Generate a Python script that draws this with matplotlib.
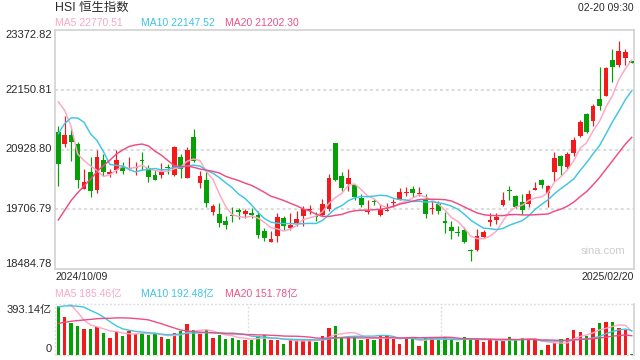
import numpy as np
import pandas as pd
import matplotlib
matplotlib.use('Agg')
import matplotlib.pyplot as plt
from matplotlib.transforms import blended_transform_factory

# ---------------- data ----------------
title = 'HSI 恒生指数'
timestamp = '02-20 09:30'
start_label = '2024/10/09'
end_label = '2025/02/20'
watermark = 'sina.com'
ytick_values = [23372.82, 22150.81, 20928.80, 19706.79, 18484.78]
ytick_labels = ['23372.82', '22150.81', '20928.80', '19706.79', '18484.78']
vol_tick_labels = ['393.14亿', '0']
vol_max = 393.14
ma_price_labels = ['MA5 22770.51', 'MA10 22147.52', 'MA20 21202.30']
ma_vol_labels = ['MA5 185.46亿', 'MA10 192.48亿', 'MA20 151.78亿']
ma_windows = [5, 10, 20]

opens = [21290, 21051, 21222, 21037, 20129, 20464, 20095, 20710, 20436, 20518,
         20566, 20525, 20552, 20703, 20552, 20402, 20416, 20566, 20402, 20778,
         20354, 21188, 20245, 20313, 19651, 19603, 19480, 19583, 19685, 19603,
         19624, 19583, 19275, 19036, 19159, 19535, 19323, 19433, 19569, 19699,
         19569, 19583, 19706, 21058, 20382, 20218, 20211, 19938, 19644, 19863,
         19596, 19678, 19829, 19904, 20047, 20115, 20013, 19924, 19713, 19822,
         19480, 19357, 19235, 19296, 18873, 18879, 19139, 19446, 19494, 19788,
         20102, 19972, 19856, 19808, 20095, 20313, 20040, 20471, 20805, 20573,
         20860, 21201, 21652, 21515, 21952, 22027, 22758, 22656, 22792, 22717]
highs = [21406, 21611, 21338, 21085, 20525, 20778, 20928, 20846, 20532, 20928,
         20675, 20778, 20668, 20880, 20607, 20505, 20655, 20627, 21003, 20846,
         20983, 21345, 20484, 20505, 19822, 19835, 19576, 19753, 19740, 19719,
         19740, 19672, 19330, 19275, 19631, 19562, 19637, 19672, 19767, 19788,
         19644, 19917, 20423, 21058, 20464, 20532, 20232, 20027, 19904, 19924,
         19808, 19835, 19924, 20149, 20163, 20177, 20163, 20013, 19870, 19876,
         19644, 19460, 19378, 19344, 18900, 19303, 19289, 19631, 19631, 20068,
         20190, 19993, 20027, 20095, 20266, 20327, 20211, 20873, 20819, 20873,
         21187, 21529, 21679, 21857, 22619, 22608, 22977, 23147, 22977, 22724]
lows = [20184, 20983, 20689, 20143, 20115, 19958, 20047, 20389, 20368, 20450,
        20436, 20505, 20409, 20505, 20259, 20300, 20341, 20436, 20382, 20354,
        20354, 20675, 20143, 19753, 19583, 19357, 19316, 19446, 19508, 19535,
        19528, 19118, 19070, 19036, 19036, 19289, 19289, 19378, 19364, 19603,
        19467, 19562, 19672, 20286, 20088, 20081, 19890, 19753, 19617, 19788,
        19562, 19672, 19753, 19890, 19986, 19958, 19972, 19535, 19603, 19617,
        19235, 19105, 19173, 19016, 18647, 18866, 19125, 19378, 19412, 19774,
        19904, 19740, 19617, 19754, 20095, 20150, 19754, 20286, 20402, 20525,
        20798, 21187, 21256, 21406, 21734, 22027, 22314, 22608, 22656, 22697]
closes = [20641, 21222, 21085, 20313, 20259, 20088, 20771, 20470, 20470, 20723,
          20491, 20559, 20566, 20696, 20368, 20313, 20470, 20552, 20983, 20532,
          20914, 20696, 20382, 19835, 19767, 19426, 19398, 19569, 19644, 19665,
          19583, 19193, 19118, 19111, 19542, 19364, 19385, 19501, 19706, 19713,
          19555, 19808, 20354, 20313, 20143, 20354, 19958, 19801, 19658, 19849,
          19719, 19692, 19842, 20054, 20061, 20040, 20027, 19617, 19726, 19672,
          19426, 19269, 19221, 19036, 18859, 19166, 19255, 19494, 19549, 19890,
          20088, 19754, 19686, 20027, 20150, 20197, 20177, 20750, 20593, 20846,
          21119, 21481, 21290, 21816, 21816, 22587, 22622, 22943, 22915, 22703]
volumes = [393.14, 299, 254, 228, 204, 204, 223, 176, 136, 183,
           149, 191, 165, 170, 155, 165, 142, 126, 173, 189,
           244, 197, 168, 197, 136, 157, 128, 136, 118, 118,
           118, 149, 155, 113, 113, 86, 118, 118, 113, 113,
           97, 149, 215, 228, 139, 144, 144, 118, 128, 113,
           152, 152, 128, 86, 139, 139, 71, 139, 139, 118,
           139, 118, 97, 139, 128, 128, 97, 113, 113, 113,
           139, 113, 131, 128, 128, 39, 79, 92, 123, 131,
           197, 183, 149, 210, 249, 259, 259, 210, 197, 2]
# sessions before the first visible candle (needed for the moving averages),
# estimated so that the MA lines start where they do in the picture
prior_closes = [17234, 17108, 17240, 17369, 17422, 17660, 18013, 18258, 18247, 18779,
                19129, 19925, 20355, 21133, 22443, 22113, 22736, 23099, 20926]
prior_volumes = [100, 105, 110, 108, 112, 115, 118, 120, 119, 150,
                 220, 250, 260, 274, 470, 450, 480, 500, 526]

# ---------------- style ----------------
plt.rcParams['font.family'] = ['Liberation Sans', 'Noto Sans CJK SC', 'DejaVu Sans']
UP = '#f21a1a'
DOWN = '#05a005'
MA_COLORS = ['#ffa6c4', '#3dc6e6', '#ee4c84']
MA_TEXT = ['#f9a8c6', '#3ec3e6', '#ef5287']
TXT = '#2a2a2a'
GRID = '#dcdcdc'
BORDER = '#d2d2d2'

W, H = 640, 360
fig = plt.figure(figsize=(6.4, 3.6), dpi=100)
fig.patch.set_facecolor('white')

def fx(x):
    return x / W

def fy(y):
    return 1 - y / H

L, R = 55.0, 633.5
MT, MB = 29.7, 269.3
VT, VB = 304.3, 354.5
ax = fig.add_axes([fx(L), fy(MB), (R - L) / W, (MB - MT) / H])
axv = fig.add_axes([fx(L), fy(VB), (R - L) / W, (VB - VT) / H])

n = len(closes)
x = np.arange(n)
o = np.array(opens, float)
h = np.array(highs, float)
lo = np.array(lows, float)
c = np.array(closes, float)
v = np.array(volumes, float)
up = c >= o
cols = np.where(up, UP, DOWN)

# moving averages
full_c = pd.Series(list(prior_closes) + list(closes), dtype=float)
full_v = pd.Series(list(prior_volumes) + list(volumes), dtype=float)
ma_c = [full_c.rolling(w).mean().to_numpy()[-n:] for w in ma_windows]
ma_v = [full_v.rolling(w).mean().to_numpy()[-n:] for w in ma_windows]

# ---------------- main panel ----------------
ax.set_xlim(-0.51, n - 1 + 0.27)
ax.set_ylim(ytick_values[-1], ytick_values[0])
for gv in ytick_values[1:-1]:
    ax.axhline(gv, color=GRID, lw=1.5, dashes=(1.4, 1.4), zorder=0)

ax.vlines(x, lo, h, colors=cols, lw=0.85, zorder=2)
body_min = 22
body_bottom = np.minimum(o, c)
body_h = np.maximum(np.abs(c - o), body_min)
ax.bar(x, body_h, bottom=body_bottom, width=0.74, color=cols, linewidth=0, zorder=3)

for ma, col in zip(ma_c, MA_COLORS):
    ax.plot(x, ma, color=col, lw=1.05, zorder=4, solid_joinstyle='round')

ax.set_xticks([])
ax.set_yticks([])
for s in ax.spines.values():
    s.set_color(BORDER)
    s.set_linewidth(1.2)

fig.text(fx(602.7), fy(250.7), watermark, ha='center', va='center',
         fontsize=8, color='#cccccc')

# y labels
tr = blended_transform_factory(ax.transAxes, ax.transData)
dx = -3.3 / (R - L)
for i, (val, lab) in enumerate(zip(ytick_values, ytick_labels)):
    va = 'center'
    if i == 0:
        va = 'top'
    elif i == len(ytick_values) - 1:
        va = 'bottom'
    ax.text(dx, val, lab, transform=tr, ha='right', va=va, fontsize=8, color=TXT)

# ---------------- volume panel ----------------
axv.set_xlim(-0.51, n - 1 + 0.27)
axv.set_ylim(0, vol_max * 1.025)
axv.bar(x, v, width=0.52, color=cols, linewidth=0, zorder=2)
for ma, col in zip(ma_v, MA_COLORS):
    axv.plot(x, ma, color=col, lw=1.0, zorder=3)
axv.set_xticks([])
axv.set_yticks([])
for k in ['top', 'left', 'bottom']:
    axv.spines[k].set_visible(False)
axv.spines['right'].set_color(BORDER)
axv.spines['right'].set_linewidth(1.2)
dkw = dict(color=GRID, lw=1.0, dashes=(1.4, 1.4), transform=axv.transAxes, clip_on=False, zorder=1)
axv.plot([0, 1], [1, 1], **dkw)
axv.plot([0, 1], [0, 0], **dkw)
axv.plot([0, 0], [0, 1], **dkw)
axv.plot([1 / 3, 1 / 3], [0, 1], **dkw)
axv.plot([2 / 3, 2 / 3], [0, 1], **dkw)

trv = blended_transform_factory(axv.transAxes, axv.transAxes)
axv.text(dx, 0.99, vol_tick_labels[0], transform=trv, ha='right', va='top', fontsize=8, color=TXT)
axv.text(dx, 0.0, vol_tick_labels[1], transform=trv, ha='right', va='bottom', fontsize=8, color=TXT)

# ---------------- header / footer texts ----------------
fig.text(fx(55), fy(8), title, ha='left', va='center', fontsize=8.9, color=TXT)
fig.text(fx(634), fy(8), timestamp, ha='right', va='center', fontsize=7.5, color=TXT)
ma_x = [55, 140.7, 225.3]
for xx, lab, col in zip(ma_x, ma_price_labels, MA_TEXT):
    fig.text(fx(xx), fy(23.5), lab, ha='left', va='center', fontsize=7.5, color=col)
for xx, lab, col in zip(ma_x, ma_vol_labels, MA_TEXT):
    fig.text(fx(xx), fy(294.3), lab, ha='left', va='center', fontsize=7.5, color=col)
fig.text(fx(55), fy(277.3), start_label, ha='left', va='center', fontsize=7.6, color=TXT)
fig.text(fx(634.3), fy(277.3), end_label, ha='right', va='center', fontsize=7.6, color=TXT)

fig.savefig('out.png', dpi=100, facecolor='white')
